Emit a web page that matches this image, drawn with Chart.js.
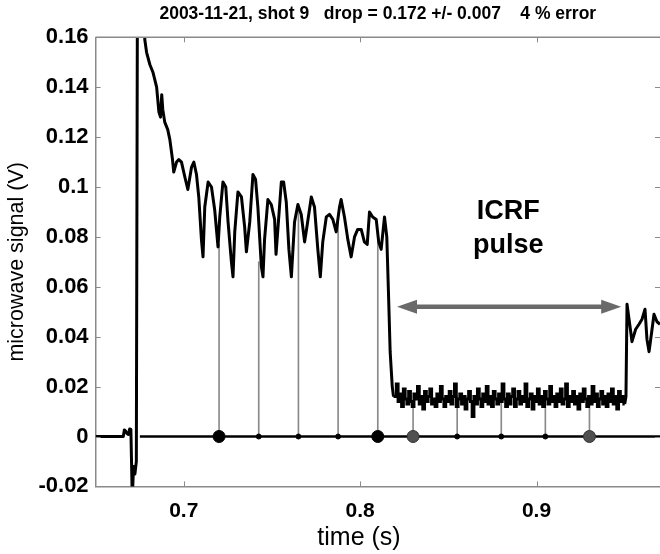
<!DOCTYPE html>
<html><head><meta charset="utf-8">
<script src="https://cdn.jsdelivr.net/npm/chart.js@4/dist/chart.umd.min.js"></script>
<style>html,body{margin:0;padding:0;background:#fff}canvas{display:block}</style>
</head><body>
<canvas id="c" width="660" height="554"></canvas>
<script>
// ---- text ----
const titleText = '2003-11-21, shot 9   drop = 0.172 +/- 0.007    4 % error';
const xTitle = 'time (s)';
const yTitle = 'microwave signal (V)';
const pulseLabel = ['ICRF', 'pulse'];

// ---- ticks ----
const xTicks = [0.7, 0.8, 0.9];
const xTickLabels = ['0.7', '0.8', '0.9'];
const yTicks = [-0.02, 0, 0.02, 0.04, 0.06, 0.08, 0.1, 0.12, 0.14, 0.16];
const yTickLabels = ['-0.02', '0', '0.02', '0.04', '0.06', '0.08', '0.1', '0.12', '0.14', '0.16'];

// ---- signal: before / at the breakdown spike ----
const preTime  = [0.65, 0.6657, 0.6663, 0.6670, 0.6678, 0.6686, 0.6693, 0.6700, 0.6708, 0.6715, 0.6723, 0.6731, 0.6737, 0.6776];
const preValue = [0, 0, 0.0026, 0.0022, 0.0012, 0.0008, 0.0030, 0.0028, -0.025, -0.012, -0.015, -0.010, 0.175, 0.175];

// ---- signal: decay with oscillations ----
const decayTime = [0.6779,0.6789,0.6808,0.6825,0.6846,0.6859,0.6868,0.6875,0.6881,0.6892,
  0.6909,0.6921,0.6936,0.6943,0.6959,0.6972,0.6987,0.7006,0.7023,0.7044,
  0.7057,0.7072,0.7085,0.7100,0.7109,0.7119,0.7138,0.7157,0.7175,0.7194,
  0.7204,0.7222,0.7238,0.7251,0.7270,0.7279,0.7289,0.7307,0.7327,0.7345,
  0.7355,0.7374,0.7392,0.7407,0.7420,0.7440,0.7449,0.7458,0.7477,0.7496,
  0.7515,0.7523,0.7553,0.7566,0.7581,0.7596,0.7610,0.7628,0.7647,0.7666,
  0.7685,0.7698,0.7723,0.7741,0.7760,0.7774,0.7788,0.7808,0.7826,0.7845,
  0.7864,0.7883,0.7892,0.7911,0.7930,0.7949,0.7968,0.7986,0.8006,0.8024,
  0.8040,0.8053,0.8071,0.8091,0.8105,0.8119,0.8138,0.8151,0.8162,0.8170,
  0.8182,0.8189];
const decayValue = [0.159,0.154,0.149,0.146,0.140,0.130,0.128,0.137,0.131,0.126,
  0.123,0.119,0.111,0.106,0.110,0.111,0.110,0.104,0.099,0.108,
  0.110,0.105,0.096,0.079,0.072,0.092,0.102,0.100,0.091,0.076,
  0.088,0.102,0.100,0.086,0.070,0.064,0.082,0.098,0.096,0.084,
  0.074,0.086,0.105,0.103,0.092,0.068,0.064,0.079,0.095,0.093,
  0.087,0.073,0.102,0.102,0.094,0.075,0.064,0.086,0.093,0.089,
  0.078,0.084,0.096,0.092,0.075,0.064,0.078,0.088,0.089,0.087,
  0.082,0.092,0.095,0.088,0.079,0.072,0.080,0.083,0.083,0.078,
  0.077,0.090,0.088,0.087,0.078,0.075,0.088,0.080,0.054,0.034,
  0.020,0.016];

// ---- signal: during the ICRF pulse (noisy floor) ----
const icrfTime = [0.820,0.821,0.822,0.823,0.824,0.825,0.826,0.827,0.828,0.829,
  0.830,0.831,0.832,0.833,0.834,0.835,0.836,0.837,0.838,0.839,
  0.840,0.841,0.842,0.843,0.844,0.845,0.846,0.847,0.848,0.849,
  0.850,0.851,0.852,0.853,0.854,0.855,0.856,0.857,0.858,0.859,
  0.860,0.861,0.862,0.863,0.864,0.865,0.866,0.867,0.868,0.869,
  0.870,0.871,0.872,0.873,0.874,0.875,0.876,0.877,0.878,0.879,
  0.880,0.881,0.882,0.883,0.884,0.885,0.886,0.887,0.888,0.889,
  0.890,0.891,0.892,0.893,0.894,0.895,0.896,0.897,0.898,0.899,
  0.900,0.901,0.902,0.903,0.904,0.905,0.906,0.907,0.908,0.909,
  0.910,0.911,0.912,0.913,0.914,0.915,0.916,0.917,0.918,0.919,
  0.920,0.921,0.922,0.923,0.924,0.925,0.926,0.927,0.928,0.929,
  0.930,0.931,0.932,0.933,0.934,0.935,0.936,0.937,0.938,0.939,
  0.940,0.941,0.942,0.943,0.944,0.945,0.946,0.947,0.948,0.949,
  0.950];
const icrfValue = [0.016,0.021,0.014,0.017,0.012,0.019,0.015,0.013,0.018,0.014,
  0.012,0.017,0.015,0.020,0.013,0.016,0.011,0.018,0.014,0.016,
  0.019,0.013,0.015,0.012,0.017,0.014,0.020,0.015,0.012,0.016,
  0.014,0.018,0.013,0.016,0.021,0.012,0.015,0.017,0.013,0.016,
  0.011,0.015,0.018,0.014,0.008,0.016,0.013,0.019,0.015,0.012,
  0.017,0.014,0.020,0.013,0.016,0.012,0.018,0.015,0.013,0.017,
  0.014,0.021,0.015,0.012,0.017,0.013,0.016,0.019,0.012,0.015,
  0.018,0.013,0.016,0.014,0.021,0.012,0.015,0.017,0.011,0.016,
  0.014,0.019,0.013,0.016,0.012,0.018,0.015,0.013,0.020,0.014,
  0.016,0.012,0.017,0.014,0.019,0.013,0.015,0.021,0.012,0.016,
  0.014,0.018,0.013,0.016,0.011,0.017,0.014,0.019,0.015,0.012,
  0.016,0.013,0.020,0.014,0.017,0.012,0.015,0.018,0.013,0.016,
  0.012,0.017,0.014,0.019,0.013,0.016,0.011,0.018,0.014,0.016,
  0.013];

// ---- signal: after the pulse ----
const afterTime  = [0.9507,0.9513,0.9534,0.9541,0.9562,0.9581,0.9598,0.9615,0.9626,0.9638,0.9653,0.9666,0.9683,0.9700];
const afterValue = [0.016,0.053,0.042,0.038,0.043,0.045,0.047,0.051,0.039,0.034,0.042,0.049,0.046,0.045];

// ---- stem plot (sample instants) ----
const stemTime  = [0.72, 0.7425, 0.765, 0.7875, 0.81, 0.83, 0.855, 0.88, 0.905, 0.93];
const stemValue = [0.077, 0.070, 0.092, 0.088, 0.078, 0.013, 0.016, 0.014, 0.018, 0.016];
const baselineTime  = [0.6751, 0.97];
const baselineValue = [0, 0];

// ---- ICRF pulse arrow and label ----
const arrowTime  = [0.8209, 0.948];
const arrowValue = [0.052, 0.052];
const labelTime  = [0.884, 0.884];
const labelValue = [0.090, 0.0767];

// ---------------------------------------------------------------
const pts = (xs, ys) => xs.map((x, i) => ({x, y: ys[i]}));
const lastPt = (xs, ys) => [{x: xs[xs.length - 1], y: ys[ys.length - 1]}];
const mainData  = [].concat(pts(preTime, preValue), pts(decayTime, decayValue));
const icrfData  = [].concat(lastPt(decayTime, decayValue), pts(icrfTime, icrfValue));
const afterData = [].concat(lastPt(icrfTime, icrfValue), pts(afterTime, afterValue));

const FONT = "'Liberation Sans', Arial, Helvetica, sans-serif";
Chart.defaults.font.family = FONT;
Chart.defaults.color = '#000';

const AXIS = '#8a8a8a';
const LW = 3;

const extras = {
  id: 'extras',
  afterDatasetsDraw(chart) {
    const {ctx, scales: {x, y}} = chart;
    ctx.save();
    const x0 = x.getPixelForValue(arrowTime[0]), x1 = x.getPixelForValue(arrowTime[1]);
    const ya = y.getPixelForValue(arrowValue[0]);
    const hl = 20, hw = 7;
    ctx.strokeStyle = '#6a6a6a'; ctx.fillStyle = '#6a6a6a'; ctx.lineWidth = 4.5;
    ctx.beginPath(); ctx.moveTo(x0 + hl - 2, ya); ctx.lineTo(x1 - hl + 2, ya); ctx.stroke();
    ctx.beginPath(); ctx.moveTo(x0, ya); ctx.lineTo(x0 + hl, ya - hw); ctx.lineTo(x0 + hl, ya + hw); ctx.closePath(); ctx.fill();
    ctx.beginPath(); ctx.moveTo(x1, ya); ctx.lineTo(x1 - hl, ya - hw); ctx.lineTo(x1 - hl, ya + hw); ctx.closePath(); ctx.fill();
    ctx.fillStyle = '#000';
    ctx.font = 'bold 27px ' + FONT;
    ctx.textAlign = 'center'; ctx.textBaseline = 'middle';
    pulseLabel.forEach((t, i) => ctx.fillText(t, x.getPixelForValue(labelTime[i]), y.getPixelForValue(labelValue[i])));
    ctx.restore();
  },
  afterDraw(chart) {
    const {ctx, chartArea: a, scales: {x, y}} = chart;
    ctx.save();
    ctx.strokeStyle = AXIS; ctx.lineWidth = 1.5;
    ctx.beginPath(); ctx.moveTo(a.left, a.top); ctx.lineTo(a.right, a.top); ctx.stroke();
    ctx.lineWidth = 1;
    const tl = 5;
    xTicks.forEach(v => {
      const px = Math.round(x.getPixelForValue(v)) + 0.5;
      ctx.beginPath();
      ctx.moveTo(px, a.bottom); ctx.lineTo(px, a.bottom - tl);
      ctx.moveTo(px, a.top); ctx.lineTo(px, a.top + tl);
      ctx.stroke();
    });
    yTicks.forEach(v => {
      const py = Math.round(y.getPixelForValue(v)) + 0.5;
      ctx.beginPath();
      ctx.moveTo(a.left, py); ctx.lineTo(a.left + tl, py);
      ctx.moveTo(a.right, py); ctx.lineTo(a.right - tl, py);
      ctx.stroke();
    });
    ctx.fillStyle = '#000';
    ctx.font = '25px ' + FONT;
    ctx.textAlign = 'center'; ctx.textBaseline = 'middle';
    ctx.fillText(xTitle, 359, 538);
    ctx.restore();
  }
};

new Chart(document.getElementById('c'), {
  type: 'scatter',
  data: {
    datasets: [
      { type: 'bar', data: pts(stemTime, stemValue), backgroundColor: '#8a8a8a',
        barThickness: 1, grouped: false, order: 6 },
      { type: 'line', data: pts(baselineTime, baselineValue), borderColor: '#000',
        borderWidth: 2.6, pointRadius: 0, showLine: true, order: 5 },
      { type: 'line', data: mainData, borderColor: '#000', borderWidth: LW, borderJoinStyle: 'round',
        pointRadius: 0, showLine: true, tension: 0, clip: 0, order: 4 },
      { type: 'line', data: icrfData, borderColor: '#000', borderWidth: LW, stepped: 'middle',
        pointRadius: 0, showLine: true, clip: 0, order: 3 },
      { type: 'line', data: afterData, borderColor: '#000', borderWidth: LW, borderJoinStyle: 'round',
        pointRadius: 0, showLine: true, tension: 0, clip: 0, order: 2 },
      { type: 'scatter', data: stemTime.map(t => ({x: t, y: 0})),
        pointRadius: [6, 2.5, 2.5, 2.5, 6, 6, 2.5, 2.5, 2.5, 6],
        backgroundColor: ['#000','#000','#000','#000','#000','#505050','#000','#000','#000','#505050'],
        borderColor: ['#000','#000','#000','#000','#000','#333','#000','#000','#000','#333'],
        borderWidth: 1, order: 1 }
    ]
  },
  options: {
    responsive: false, animation: false, devicePixelRatio: 1,
    layout: { autoPadding: false, padding: { left: 0, right: -1, top: 0, bottom: 0 } },
    plugins: {
      legend: { display: false }, tooltip: { enabled: false },
      title: { display: true, text: titleText, fullSize: false, color: '#000',
        font: { size: 17.5, weight: 'bold' }, padding: { top: 3.5, bottom: 12.8 } }
    },
    scales: {
      x: {
        type: 'linear', min: 0.65, max: 0.97, offset: false,
        grid: { display: false, drawTicks: false },
        border: { color: AXIS, width: 1.5 },
        afterBuildTicks(s) { s.ticks = xTicks.map(v => ({value: v})); },
        ticks: { callback: v => xTickLabels[xTicks.indexOf(v)], font: { size: 21, weight: 'bold' },
          color: '#000', padding: 12, maxRotation: 0, autoSkip: false },
        afterFit(s) { s.height = 67.6; s.paddingLeft = 0; s.paddingRight = 0; }
      },
      y: {
        type: 'linear', min: -0.02, max: 0.16,
        grid: { display: false, drawTicks: false },
        border: { color: AXIS, width: 1.5 },
        afterBuildTicks(s) { s.ticks = yTicks.map(v => ({value: v})); },
        ticks: { callback: v => yTickLabels[yTicks.indexOf(v)], font: { size: 22, weight: 'bold' },
          color: '#000', padding: 7, autoSkip: false },
        title: { display: true, text: yTitle, color: '#000', font: { size: 21.5 }, padding: { top: 4, bottom: 0 } },
        afterFit(s) { s.width = 95.6; s.paddingTop = 0; s.paddingBottom = 0; }
      }
    }
  },
  plugins: [extras]
});
</script>
</body></html>
